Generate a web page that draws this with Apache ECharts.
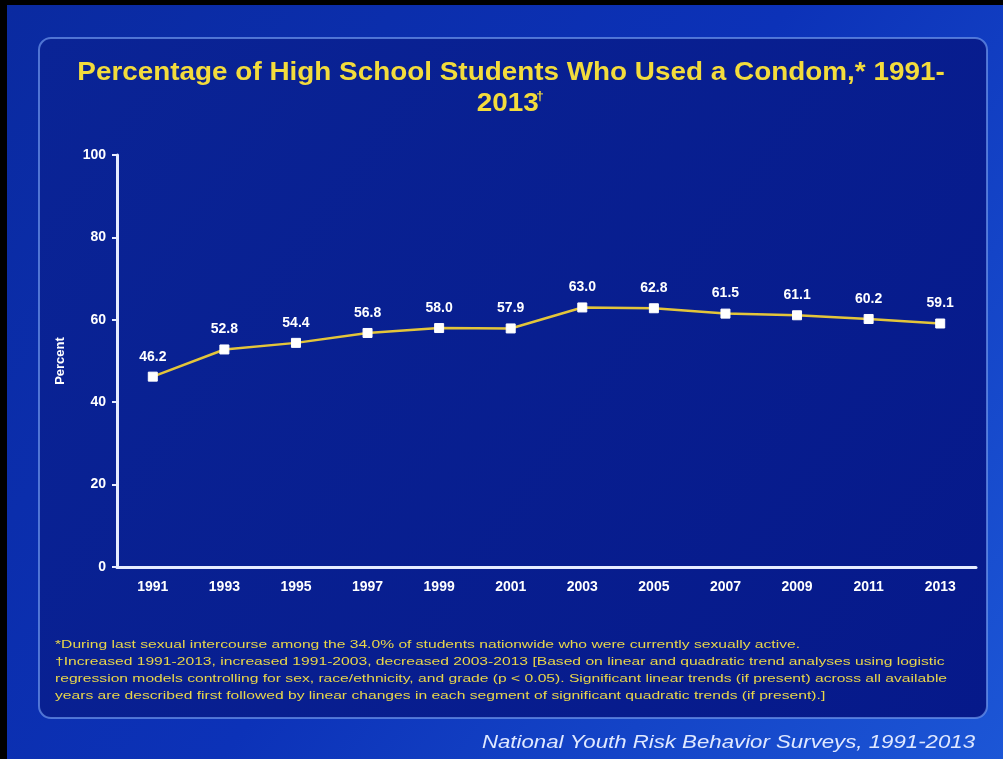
<!DOCTYPE html>
<html>
<head>
<meta charset="utf-8">
<script src="https://cdn.jsdelivr.net/npm/echarts@6/dist/echarts.min.js"></script>
<style>
  html, body { margin: 0; padding: 0; background: #000; }
  #chart { width: 1003px; height: 759px; }
</style>
</head>
<body>
<div id="chart"></div>
<script>
var years = ["1991", "1993", "1995", "1997", "1999", "2001", "2003", "2005", "2007", "2009", "2011", "2013"];
var condomUse = [46.2, 52.8, 54.4, 56.8, 58.0, 57.9, 63.0, 62.8, 61.5, 61.1, 60.2, 59.1];
var yTicks = [0, 20, 40, 60, 80, 100];

var titleLines = ["Percentage of High School Students Who Used a Condom,* 1991-", "2013"];
var footnotes = [
  "*During last sexual intercourse among the 34.0% of students nationwide who were currently sexually active.",
  "\u2020Increased 1991-2013, increased 1991-2003, decreased 2003-2013 [Based on linear and quadratic trend analyses using logistic",
  "regression models controlling for sex, race/ethnicity, and grade (p < 0.05). Significant linear trends (if present) across all available",
  "years are described first followed by linear changes in each segment of significant quadratic trends (if present).]"
];
var sourceText = "National Youth Risk Behavior Surveys, 1991-2013";

var myChart = echarts.init(document.getElementById("chart"));

var titleFont = "bold 25px 'Liberation Sans', Arial, sans-serif";
var bodyFont = "'Liberation Sans', Arial, sans-serif";

var option = {
  backgroundColor: "#000",
  graphic: [
    {
      type: "rect",
      z: -10,
      shape: { x: 7, y: 5, width: 996, height: 754 },
      style: {
        fill: new echarts.graphic.LinearGradient(0, 0, 1, 1, [
          { offset: 0, color: "#0a2aa0" },
          { offset: 0.5, color: "#0c32b8" },
          { offset: 1, color: "#1c56d6" }
        ])
      }
    },
    {
      type: "rect",
      z: -9,
      shape: { x: 39, y: 38, width: 948, height: 680, r: 12 },
      style: {
        fill: new echarts.graphic.LinearGradient(0, 0, 1, 1, [
          { offset: 0, color: "#0a2496" },
          { offset: 1, color: "#06198a" }
        ]),
        stroke: "rgba(110,150,235,0.7)",
        lineWidth: 2
      }
    },
    // title, stretched a little wider like the slide
    {
      type: "group",
      x: 511,
      y: 73,
      scaleX: 1.115,
      children: [
        {
          type: "text",
          x: 0,
          y: 0,
          style: {
            text: titleLines[0],
            fill: "#f3dc3c",
            font: titleFont,
            align: "center",
            verticalAlign: "middle",
            shadowColor: "rgba(0,0,0,0.6)",
            shadowBlur: 2,
            shadowOffsetX: 1,
            shadowOffsetY: 1
          }
        },
        {
          type: "text",
          x: -3,
          y: 31,
          style: {
            text: titleLines[1],
            fill: "#f3dc3c",
            font: titleFont,
            align: "center",
            verticalAlign: "middle",
            shadowColor: "rgba(0,0,0,0.6)",
            shadowBlur: 2,
            shadowOffsetX: 1,
            shadowOffsetY: 1
          }
        },
        {
          type: "text",
          x: 26,
          y: 24,
          style: {
            text: "\u2020",
            fill: "#f3dc3c",
            font: "bold 12px 'Liberation Sans', Arial, sans-serif",
            align: "center",
            verticalAlign: "middle"
          }
        }
      ]
    },
    {
      type: "group",
      x: 55,
      y: 639,
      scaleX: 1.36,
      children: footnotes.map(function (line, i) {
        return {
          type: "text",
          x: 0,
          y: i * 17,
          style: {
            text: line,
            fill: "#e9d64a",
            font: "11.5px " + bodyFont
          }
        };
      })
    },
    {
      type: "group",
      x: 975,
      y: 743,
      scaleX: 1.17,
      children: [
        {
          type: "text",
          x: 0,
          y: 0,
          style: {
            text: sourceText,
            fill: "#dfe8ff",
            font: "italic 19px " + bodyFont,
            align: "right",
            verticalAlign: "middle"
          }
        }
      ]
    }
  ],
  grid: {
    left: 117,
    right: 27,
    top: 155,
    bottom: 192
  },
  xAxis: {
    type: "category",
    data: years,
    boundaryGap: true,
    axisLine: { lineStyle: { color: "#e6ecff", width: 3 } },
    axisTick: { show: false },
    axisLabel: {
      color: "#ffffff",
      fontFamily: "Liberation Sans",
      fontWeight: "bold",
      fontSize: 14,
      margin: 13
    }
  },
  yAxis: {
    type: "value",
    min: 0,
    max: 100,
    interval: 20,
    name: "Percent",
    nameLocation: "middle",
    nameGap: 50,
    nameTextStyle: {
      color: "#ffffff",
      fontFamily: "Liberation Sans",
      fontWeight: "bold",
      fontSize: 13
    },
    axisLine: { show: true, lineStyle: { color: "#e6ecff", width: 3 } },
    axisTick: { show: true, length: 5, lineStyle: { color: "#e6ecff", width: 2 } },
    splitLine: { show: false },
    axisLabel: {
      color: "#ffffff",
      fontFamily: "Liberation Sans",
      fontWeight: "bold",
      fontSize: 14,
      margin: 11,
      formatter: function (v) {
        return yTicks.indexOf(v) >= 0 ? String(v) : "";
      }
    }
  },
  series: [
    {
      name: "Used a condom",
      type: "line",
      data: condomUse,
      symbol: "rect",
      symbolSize: 9,
      lineStyle: { color: "#e3c53a", width: 2.5 },
      itemStyle: { color: "#ffffff", borderColor: "#ffffff" },
      label: {
        show: true,
        position: "top",
        distance: 8,
        color: "#ffffff",
        fontFamily: "Liberation Sans",
        fontWeight: "bold",
        fontSize: 14,
        formatter: function (p) {
          return p.value.toFixed(1);
        }
      }
    }
  ],
  animation: false
};

myChart.setOption(option);
window.addEventListener("resize", function () {
  myChart.resize();
});
</script>
</body>
</html>
